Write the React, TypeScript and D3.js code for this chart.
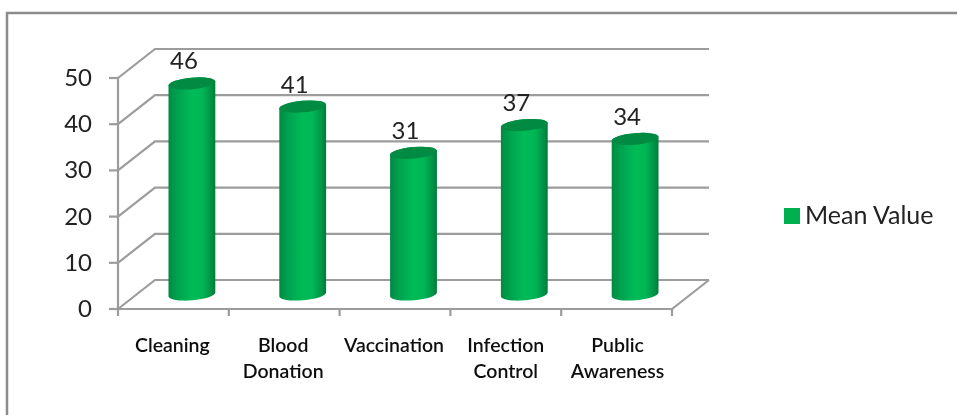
import React from "react";
import * as d3 from "d3";

const categories = [["Cleaning"], ["Blood", "Donation"], ["Vaccination"], ["Infection", "Control"], ["Public", "Awareness"]];
const values = [46, 41, 31, 37, 34];
const yTicks = [0, 10, 20, 30, 40, 50];
const seriesName = "Mean Value";

const W = 957, H = 415;
const DX = 37, DY = -29;
const FONT = "Lato, 'Open Sans', sans-serif";
const GRID = "#9c9c9c";
const labelNudge = [-1, -1, -1, 0, 1];

export default function App() {
  const x = d3.scaleBand<number>().domain(d3.range(categories.length)).range([118, 672]).padding(0);
  const y = d3.scaleLinear().domain([0, 50]).range([309, 78]);
  const bw = x.bandwidth();
  const rx = 23.5, ry = 5.8, rot = -5;
  const edges = d3.range(categories.length + 1).map((i) => 118 + i * bw);
  const axisLine = d3.line<[number, number]>();

  return (
    <svg width={W} height={H} viewBox={`0 0 ${W} ${H}`}
      style={{ position: "absolute", left: 0, top: 0, display: "block", background: "#fff" }}>
      <defs>
        <linearGradient id="cyl" x1="0" x2="1" y1="0" y2="0">
          <stop offset="0" stopColor="#008a41" />
          <stop offset="0.2" stopColor="#00a34f" />
          <stop offset="0.5" stopColor="#00bb58" />
          <stop offset="0.72" stopColor="#00b654" />
          <stop offset="0.92" stopColor="#009046" />
          <stop offset="1" stopColor="#007a3a" />
        </linearGradient>
        <filter id="soft" x="-5%" y="-5%" width="110%" height="110%">
          <feGaussianBlur stdDeviation="0.45" />
        </filter>
      </defs>

      <path d={`M7 ${H} V13 H${W}`} fill="none" stroke="#8c8c8c" strokeWidth={2.5} />

      <g filter="url(#soft)">
        {/* grid: back wall, side wall, floor */}
        {yTicks.map((t) => (
          <path key={t} fill="none" stroke={GRID} strokeWidth={2.2}
            d={axisLine([[118, y(t)], [118 + DX, y(t) + DY], [672 + DX, y(t) + DY]]) ?? ""} />
        ))}
        <path fill="none" stroke={GRID} strokeWidth={2.2}
          d={axisLine([[118, 309], [672, 309], [672 + DX, 309 + DY]]) ?? ""} />
        <path fill="none" stroke={GRID} strokeWidth={2.2} d={axisLine([[118, 78], [118, 309]]) ?? ""} />
        {yTicks.map((t) => (
          <line key={t} x1={109} x2={118} y1={y(t)} y2={y(t)} stroke={GRID} strokeWidth={2.2} />
        ))}
        {edges.map((e) => (
          <line key={e} x1={e} x2={e} y1={309} y2={316} stroke={GRID} strokeWidth={2.2} />
        ))}

        {/* cylinders */}
        {values.map((v, i) => {
          const cx = x(i)! + bw / 2 + DX / 2;
          const yBase = y(0) + DY / 2;
          const yTop = y(v) + DY / 2 + 1.5;
          const a = (rot * Math.PI) / 180;
          const ox = rx * Math.cos(a), oy = rx * Math.sin(a);
          const r = `${rx} ${ry} ${rot}`;
          const body = `M${cx - ox} ${yTop - oy} L${cx - ox} ${yBase - oy} A${r} 0 0 ${cx + ox} ${yBase + oy} L${cx + ox} ${yTop + oy} A${r} 0 0 ${cx - ox} ${yTop - oy} Z`;
          return (
            <g key={i}>
              <path d={body} fill="url(#cyl)" />
              <ellipse cx={cx} cy={yTop} rx={rx} ry={ry} transform={`rotate(${rot} ${cx} ${yTop})`} fill="#008a42" />
              <text x={cx - 8} y={yTop - 14} textAnchor="middle" fontFamily={FONT} fontSize={24} fill="#222">{v}</text>
            </g>
          );
        })}

        {/* y tick labels */}
        {yTicks.map((t) => (
          <text key={t} x={92} y={y(t) + 8} textAnchor="end" fontFamily={FONT} fontSize={24} fill="#222">{t}</text>
        ))}

        {/* category labels */}
        {categories.map((lines, i) => (
          <text key={i} textAnchor="middle" fontFamily={FONT} fontSize={19.5} fontWeight={600} fill="#111">
            {lines.map((l, j) => (
              <tspan key={j} x={x(i)! + bw / 2 + labelNudge[i]} y={352 + j * 26}>{l}</tspan>
            ))}
          </text>
        ))}

        {/* legend */}
        <rect x={784} y={208} width={16} height={16} fill="#00b050" />
        <text x={805} y={224} fontFamily={FONT} fontSize={25} fill="#222">{seriesName}</text>
      </g>
    </svg>
  );
}
